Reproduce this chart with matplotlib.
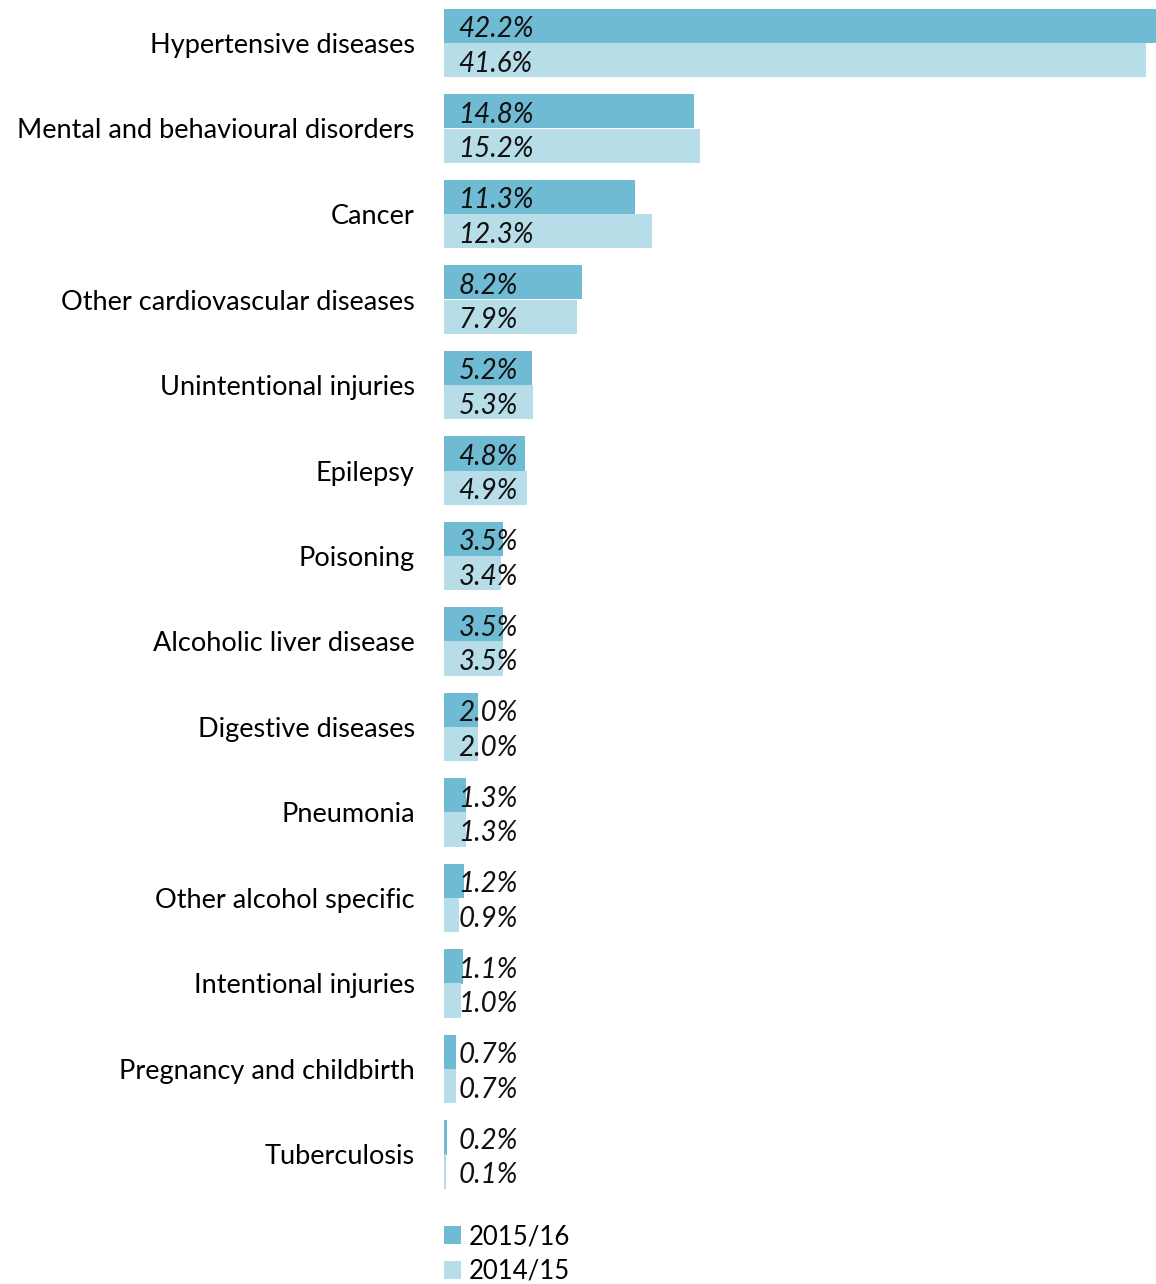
import matplotlib.pyplot as plt
from matplotlib.patches import Patch
import numpy as np

categories = [
    "Hypertensive diseases",
    "Mental and behavioural disorders",
    "Cancer",
    "Other cardiovascular diseases",
    "Unintentional injuries",
    "Epilepsy",
    "Poisoning",
    "Alcoholic liver disease",
    "Digestive diseases",
    "Pneumonia",
    "Other alcohol specific",
    "Intentional injuries",
    "Pregnancy and childbirth",
    "Tuberculosis",
]
vals_1516 = [42.2, 14.8, 11.3, 8.2, 5.2, 4.8, 3.5, 3.5, 2.0, 1.3, 1.2, 1.1, 0.7, 0.2]
vals_1415 = [41.6, 15.2, 12.3, 7.9, 5.3, 4.9, 3.4, 3.5, 2.0, 1.3, 0.9, 1.0, 0.7, 0.1]
series_labels = ["2015/16", "2014/15"]

c_dark = "#6FBBD3"
c_light = "#B7DEE8"

plt.rcParams["font.family"] = ["Lato", "DejaVu Sans"]

W, H = 1156, 1284
fig = plt.figure(figsize=(W / 100, H / 100), dpi=100)
ax = fig.add_axes([444 / W, 0, (1156 - 444) / W, 1])

y = np.arange(len(categories))
h = 0.4
ax.barh(y - h / 2, vals_1516, height=h, color=c_dark, edgecolor="none")
ax.barh(y + h / 2, vals_1415, height=h, color=c_light, edgecolor="none")

# labels sit a touch below the bar centre, like the original
dy = 0.04
for yi, v in zip(y, vals_1516):
    ax.text(0.85, yi - h / 2 + dy, f"{v:.1f}%", style="italic", fontsize=20,
            va="center", ha="left", color="#111111")
for yi, v in zip(y, vals_1415):
    ax.text(0.85, yi + h / 2 + dy, f"{v:.1f}%", style="italic", fontsize=20,
            va="center", ha="left", color="#111111")

ax.set_xlim(0, 42.2)
top = -43 / 85.5
ax.set_ylim(top + H / 85.5, top)
ax.set_yticks(y)
ax.set_yticklabels(categories, fontsize=19.5)
ax.tick_params(axis="y", length=0, pad=21)
ax.set_xticks([])
for s in ax.spines.values():
    s.set_visible(False)

handles = [Patch(facecolor=c_dark, edgecolor="none", label=series_labels[0]),
           Patch(facecolor=c_light, edgecolor="none", label=series_labels[1])]
fig.legend(handles=handles, loc="upper left",
           bbox_to_anchor=(444 / W, 1 - 1224 / H), frameon=False, fontsize=18.5,
           handlelength=0.68, handleheight=0.68, handletextpad=0.3,
           labelspacing=0.38, borderpad=0, borderaxespad=0)

fig.savefig("out.png", dpi=100)
